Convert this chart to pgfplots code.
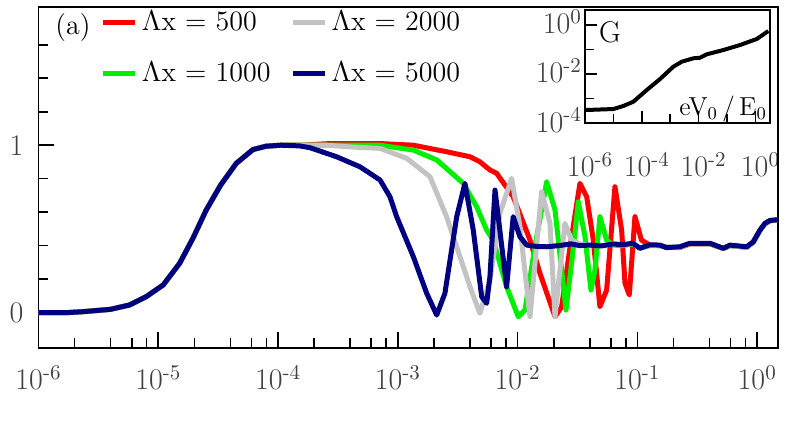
\documentclass[border=0pt]{standalone}
\usepackage{pgfplots}
\pgfplotsset{compat=1.18}
\definecolor{cRed}{RGB}{255,0,0}
\definecolor{cGreen}{RGB}{0,240,0}
\definecolor{cGray}{RGB}{195,195,195}
\definecolor{cNavy}{RGB}{0,0,128}
\definecolor{tickgray}{RGB}{64,64,64}

\begin{document}
\begin{tikzpicture}[font=\fontsize{14}{16}\selectfont]

% inset: G against eV0/E0
\begin{axis}[
    at={(273.25pt,112.5pt)}, anchor=south west,
    scale only axis, width=92.5pt, height=56.5pt,
    xmode=log, ymode=log,
    xmin=1e-6, xmax=3.24, ymin=1e-4, ymax=4.1,
    axis line style={line width=0.9pt},
    tick align=inside, tick pos=left,
    major tick length=6pt, minor tick length=4.5pt,
    tick style={black, line width=0.8pt},
    xtick={1e-6,1e-4,1e-2,1}, minor xtick={1e-5,1e-3,1e-1},
    xticklabels={10\textsuperscript{-6},10\textsuperscript{-4},10\textsuperscript{-2},10\textsuperscript{0}},
    ytick={1e-4,1e-2,1}, minor ytick={1e-3,1e-1},
    yticklabels={10\textsuperscript{-4},10\textsuperscript{-2},10\textsuperscript{0}},
    tick label style={color=tickgray, font=\fontsize{15}{17}\selectfont},
    xticklabel style={yshift=-11pt, xshift=2.5pt},
    yticklabel style={xshift=2pt, yshift=1.5pt},
]
\addplot[black, line width=2pt, line join=round] coordinates {
    (1e-6,3.4e-4) (1.15e-6,3.4e-4) (9.9e-6,3.72e-4) (2.23e-5,4.94e-4)
    (5.02e-5,7.40e-4) (1.49e-4,2.22e-3) (4.38e-4,6.25e-3) (1.285e-3,1.99e-2)
    (2.54e-3,3.18e-2) (6.50e-3,4.38e-2) (1.12e-2,4.62e-2) (1.93e-2,6.37e-2)
    (7.41e-2,9.55e-2) (0.287,0.153) (1.11,0.269) (2.84,0.569)
};
\node at (rel axis cs:0.135,0.80) {\fontsize{15}{17}\selectfont G};
\node[anchor=east, inner sep=0pt] at (rel axis cs:0.985,0.124) {\fontsize{13}{15}\selectfont eV$_0$\,/\,E$_0$};
\end{axis}

\fill[white] (370.2pt,-5pt) rectangle (380pt,180pt);

% main axis
\begin{axis}[
    at={(0pt,0pt)}, anchor=south west,
    scale only axis, width=369.75pt, height=170.5pt,
    xmode=log,
    xmin=1e-6, xmax=1.49, ymin=-0.212, ymax=1.826,
    axis line style={line width=0.9pt},
    tick align=inside, tick pos=left,
    major tick length=8pt, minor tick length=5pt,
    tick style={black, line width=0.8pt},
    xtick={1e-6,1e-5,1e-4,1e-3,1e-2,1e-1,1},
    xticklabels={10\textsuperscript{-6},10\textsuperscript{-5},10\textsuperscript{-4},10\textsuperscript{-3},10\textsuperscript{-2},10\textsuperscript{-1},10\textsuperscript{0}},
    minor xtick={2e-6,4e-6,6e-6,8e-6,2e-5,4e-5,6e-5,8e-5,2e-4,4e-4,6e-4,8e-4,
                 2e-3,4e-3,6e-3,8e-3,2e-2,4e-2,6e-2,8e-2,0.2,0.4,0.6,0.8},
    ytick={0,1}, yticklabels={0,1},
    minor ytick={0.2,0.4,0.6,0.8,1.2,1.4,1.6},
    tick label style={color=tickgray, font=\fontsize{15}{17}\selectfont},
    xticklabel style={yshift=-5pt},
    yticklabel style={xshift=-4pt},
    legend columns=2, transpose legend,
    legend style={draw=none, fill=none, at={(0.0845,1.0)}, anchor=north west,
        inner sep=0pt, outer sep=0pt, row sep=10pt,
        font=\fontsize{14}{16}\selectfont,
        /tikz/every even column/.append style={column sep=8pt}},
    legend cell align=left,
    legend image code/.code={\draw[#1] (0pt,0pt) -- (16pt,0pt);},
    every axis plot/.append style={line width=2.5pt, line join=round},
]

\addplot[cRed] coordinates {
    (1e-6,0) (1.78e-6,0) (2.34e-6,0.005) (3.98e-6,0.019) (5.75e-6,0.045)
    (7.94e-6,0.095) (1.10e-5,0.165) (1.51e-5,0.295) (1.95e-5,0.445)
    (2.51e-5,0.612) (3.31e-5,0.761) (4.47e-5,0.891) (6.17e-5,0.974)
    (7.94e-5,0.994) (1.05e-4,1.0) (1.51e-4,1.0) (2.71e-4,1.01) (7.10e-4,1.01)
    (1.346e-3,1.0) (2.55e-3,0.961) (4.00e-3,0.931) (4.84e-3,0.901)
    (5.87e-3,0.852) (6.68e-3,0.832) (9.18e-3,0.692) (1.268e-2,0.433)
    (1.535e-2,0.234) (2.05e-2,-0.025) (2.33e-2,0.035) (2.74e-2,0.393)
    (3.31e-2,0.772) (3.77e-2,0.692) (4.28e-2,0.433) (4.86e-2,0.035)
    (5.53e-2,0.134) (6.49e-2,0.752) (7.38e-2,0.493) (7.87e-2,0.175)
    (8.55e-2,0.105) (9.53e-2,0.573) (0.108,0.433) (0.127,0.403)
    (0.154,0.40) (0.175,0.39) (0.226,0.388) (0.274,0.41) (0.403,0.41)
    (0.520,0.382) (0.592,0.40) (0.817,0.39) (0.927,0.42) (1.054,0.49)
    (1.159,0.53) (1.276,0.548) (1.49,0.553)
};
\addlegendentry{$\Lambda$x = 500}

\addplot[cGreen] coordinates {
    (1e-6,0) (1.78e-6,0) (2.34e-6,0.005) (3.98e-6,0.019) (5.75e-6,0.045)
    (7.94e-6,0.095) (1.10e-5,0.165) (1.51e-5,0.295) (1.95e-5,0.445)
    (2.51e-5,0.612) (3.31e-5,0.761) (4.47e-5,0.891) (6.17e-5,0.974)
    (7.94e-5,0.994) (1.05e-4,1.0) (1.51e-4,1.0) (7.10e-4,1.0)
    (1.346e-3,0.971) (2.11e-3,0.912) (3.52e-3,0.772) (4.55e-3,0.632)
    (5.51e-3,0.493) (6.25e-3,0.433) (8.09e-3,0.154) (1.012e-2,-0.025)
    (1.151e-2,0.015) (1.393e-2,0.393) (1.746e-2,0.782) (2.05e-2,0.613)
    (2.33e-2,0.254) (2.53e-2,0.015) (2.82e-2,0.294) (3.21e-2,0.662)
    (3.65e-2,0.453) (4.09e-2,0.134) (4.42e-2,0.254) (4.86e-2,0.573)
    (5.53e-2,0.433) (6.28e-2,0.403) (7.5e-2,0.40) (9.16e-2,0.41)
    (0.105,0.385) (0.127,0.40) (0.154,0.40) (0.175,0.39) (0.226,0.39)
    (0.274,0.412) (0.403,0.412) (0.520,0.383) (0.592,0.40) (0.817,0.39)
    (0.927,0.42) (1.054,0.49) (1.159,0.53) (1.276,0.55) (1.49,0.555)
};
\addlegendentry{$\Lambda$x = 1000}

\addplot[cGray] coordinates {
    (1e-6,0) (1.78e-6,0) (2.34e-6,0.005) (3.98e-6,0.019) (5.75e-6,0.045)
    (7.94e-6,0.095) (1.10e-5,0.165) (1.51e-5,0.295) (1.95e-5,0.445)
    (2.51e-5,0.612) (3.31e-5,0.761) (4.47e-5,0.891) (6.17e-5,0.974)
    (7.94e-5,0.994) (1.05e-4,1.0) (1.51e-4,1.0) (2.55e-4,1.0) (3.98e-4,0.99)
    (7.10e-4,0.981) (1.183e-3,0.922) (1.854e-3,0.812) (2.55e-3,0.573)
    (3.30e-3,0.334) (4.00e-3,0.154) (4.84e-3,-0.005) (5.87e-3,0.194)
    (7.11e-3,0.593) (8.91e-3,0.802) (1.045e-2,0.513) (1.268e-2,-0.025)
    (1.585e-2,0.722) (1.862e-2,0.533) (2.05e-2,-0.025) (2.48e-2,0.533)
    (2.82e-2,0.433) (3.3e-2,0.41) (4.0e-2,0.40) (5.0e-2,0.40) (6.3e-2,0.41)
    (7.5e-2,0.405) (9.16e-2,0.412) (0.105,0.386) (0.127,0.403) (0.154,0.40)
    (0.175,0.39) (0.226,0.39) (0.274,0.412) (0.403,0.412) (0.520,0.384)
    (0.592,0.40) (0.817,0.39) (0.927,0.42) (1.054,0.49) (1.159,0.53)
    (1.276,0.55) (1.49,0.555)
};
\addlegendentry{$\Lambda$x = 2000}

\addplot[cNavy] coordinates {
    (1e-6,0) (1.78e-6,0) (2.34e-6,0.005) (3.98e-6,0.019) (5.75e-6,0.045)
    (7.94e-6,0.095) (1.10e-5,0.165) (1.51e-5,0.295) (1.95e-5,0.445)
    (2.51e-5,0.612) (3.31e-5,0.761) (4.47e-5,0.891) (6.17e-5,0.974)
    (7.94e-5,0.994) (1.05e-4,1.0) (1.51e-4,0.996) (1.85e-4,0.985)
    (3.08e-4,0.931) (4.83e-4,0.871) (7.10e-4,0.792) (8.59e-4,0.692)
    (9.77e-4,0.573) (1.346e-3,0.334) (1.74e-3,0.115) (2.11e-3,-0.015)
    (2.47e-3,0.115) (3.10e-3,0.573) (3.63e-3,0.772) (4.26e-3,0.493)
    (5.01e-3,0.094) (5.51e-3,0.055) (5.87e-3,0.214) (6.47e-3,0.732)
    (8.09e-3,0.154) (9.18e-3,0.573) (1.045e-2,0.453) (1.19e-2,0.403)
    (1.45e-2,0.395) (1.75e-2,0.393) (2.2e-2,0.40) (2.8e-2,0.41) (3.3e-2,0.40)
    (4.0e-2,0.403) (5.0e-2,0.398) (6.3e-2,0.41) (7.5e-2,0.405)
    (9.16e-2,0.414) (0.105,0.384) (0.127,0.405) (0.154,0.403) (0.175,0.388)
    (0.226,0.393) (0.274,0.414) (0.403,0.414) (0.520,0.384) (0.592,0.403)
    (0.817,0.393) (0.927,0.423) (1.054,0.493) (1.159,0.533) (1.276,0.55)
    (1.49,0.555)
};
\addlegendentry{$\Lambda$x = 5000}

\node[anchor=west, inner sep=0pt] at (rel axis cs:0,1) [xshift=8.25pt, yshift=-10.5pt] {(a)};
\end{axis}

\pgfresetboundingbox
\path[use as bounding box] (-19.25pt,-36pt) rectangle (375.25pt,174pt);
\end{tikzpicture}
\end{document}
